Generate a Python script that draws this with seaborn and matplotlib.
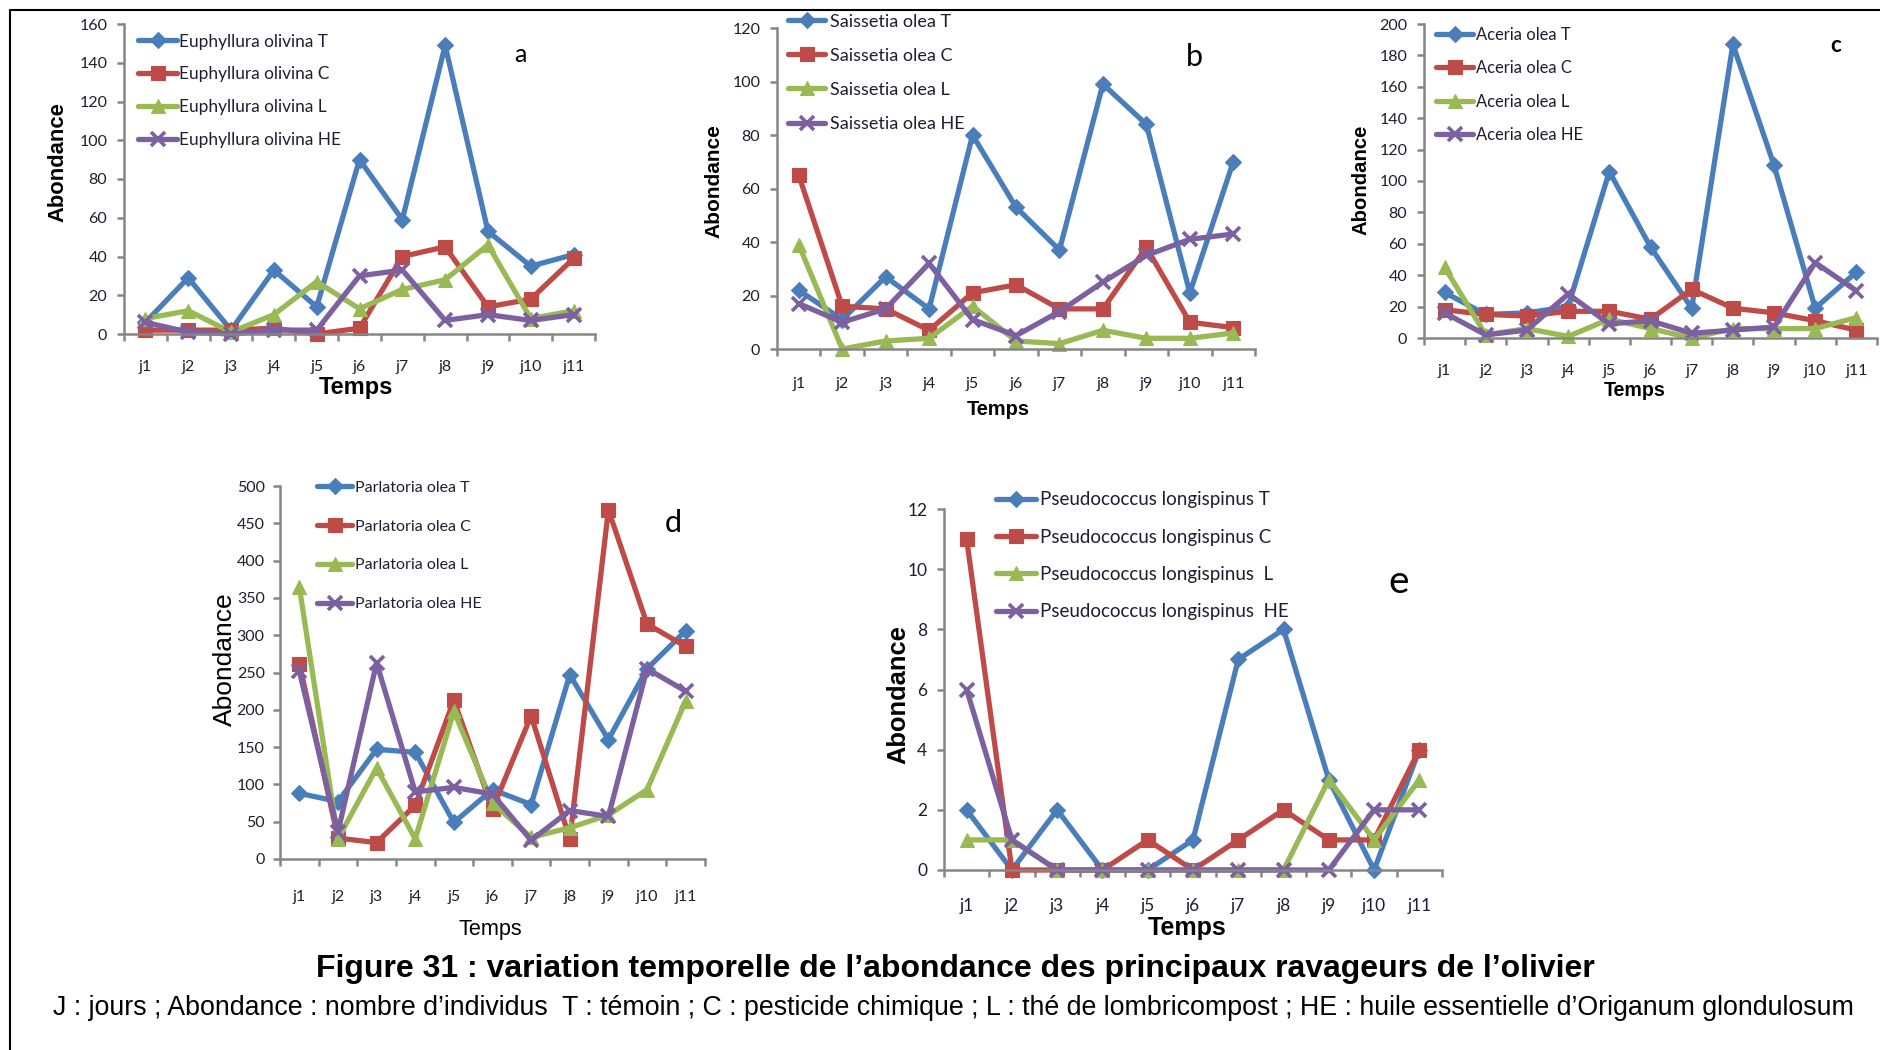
import numpy as np
import pandas as pd
import matplotlib
matplotlib.use("Agg")
import matplotlib.pyplot as plt
from matplotlib.lines import Line2D
import seaborn as sns

# ---- data -------------------------------------------------------------
days = ["j1", "j2", "j3", "j4", "j5", "j6", "j7", "j8", "j9", "j10", "j11"]
treatments = ["T", "C", "L", "HE"]

euph_T = [6, 29, 2, 33, 14, 90, 59, 149, 53, 35, 41]
euph_C = [2, 2, 2, 3, 0, 3, 40, 45, 14, 18, 39]
euph_L = [8, 12, 1, 10, 27, 13, 23, 28, 46, 8, 12]
euph_HE = [6, 1, 0, 2, 2, 30, 33, 7, 10, 7, 10]

sais_T = [22, 11, 27, 15, 80, 53, 37, 99, 84, 21, 70]
sais_C = [65, 16, 15, 7, 21, 24, 15, 15, 38, 10, 8]
sais_L = [39, 0, 3, 4, 16, 3, 2, 7, 4, 4, 6]
sais_HE = [17, 10, 15, 32, 11, 5, 14, 25, 35, 41, 43]

acer_T = [29, 15, 16, 20, 106, 58, 19, 187, 110, 19, 42]
acer_C = [18, 15, 14, 17, 17, 12, 31, 19, 16, 11, 5]
acer_L = [45, 2, 6, 1, 12, 6, 0, 6, 6, 6, 13]
acer_HE = [16, 2, 5, 28, 9, 11, 3, 5, 7, 48, 30]

parl_T = [88, 77, 147, 143, 49, 93, 73, 247, 160, 255, 306]
parl_C = [262, 28, 22, 72, 213, 67, 192, 27, 468, 315, 285]
parl_L = [365, 27, 122, 27, 198, 75, 29, 42, 59, 93, 212]
parl_HE = [252, 36, 263, 90, 96, 87, 25, 65, 57, 255, 225]

pseu_T = [2, 0, 2, 0, 0, 1, 7, 8, 3, 0, 4]
pseu_C = [11, 0, 0, 0, 1, 0, 1, 2, 1, 1, 4]
pseu_L = [1, 1, 0, 0, 0, 0, 0, 0, 3, 1, 3]
pseu_HE = [6, 1, 0, 0, 0, 0, 0, 0, 0, 2, 2]

# ---- styling ----------------------------------------------------------
sns.set_theme(style="white")
plt.rcParams["font.family"] = ["Lato", "DejaVu Sans"]

colors = {"T": "#4A7EBB", "C": "#BE4B48", "L": "#98B954", "HE": "#7D60A0"}
markers = {"T": "D", "C": "s", "L": "^", "HE": "x"}
msizes = {"T": 8, "C": 10, "L": 10, "HE": 10}
AXIS_GREY = "#868686"
TXT = "#1e1e30"

W, H = 1880, 1050
fig = plt.figure(figsize=(W / 100, H / 100), dpi=100)
fig.patch.set_facecolor("white")


def px_rect(left, top, right, bottom):
    return [left / W, 1 - bottom / H, (right - left) / W, (bottom - top) / H]


panels = [
    dict(name="Euphyllura olivina", series=[euph_T, euph_C, euph_L, euph_HE],
         rect=(124, 24, 595, 334), ymax=160, ystep=20, letter="a",
         letter_xy=(520, 55), letter_fs=18, letter_w="normal",
         leg_xy=(138, 33.5), leg_fs=12.4, leg_sp=0.98, leg_hl=2.27, leg_tp=0.12,
         tick_fs=11.5, ypad=7, xpad=19, lab_fs=17, ylab_fs=15.8, lab_w="bold",
         ylab=(-0.14, 0.555), xlab=(0.493, -0.171), xsep=""),
    dict(name="Saissetia olea", series=[sais_T, sais_C, sais_L, sais_HE],
         rect=(777, 28, 1255, 349), ymax=120, ystep=20, letter="b",
         letter_xy=(1194, 57), letter_fs=22, letter_w="normal",
         leg_xy=(788, 13.7), leg_fs=13, leg_sp=1.0, leg_hl=2.05, leg_tp=0.28,
         tick_fs=11.5, ypad=7, xpad=20, lab_fs=14.4, ylab_fs=15, lab_w="bold",
         ylab=(-0.132, 0.523), xlab=(0.462, -0.19), xsep=""),
    dict(name="Aceria olea", series=[acer_T, acer_C, acer_L, acer_HE],
         rect=(1424, 24, 1877, 338), ymax=200, ystep=20, letter="c",
         letter_xy=(1836, 45), letter_fs=16, letter_w="bold",
         leg_xy=(1436, 26.5), leg_fs=11.9, leg_sp=1.06, leg_hl=2.24, leg_tp=0.18,
         tick_fs=11.5, ypad=7, xpad=18.5, lab_fs=14.1, ylab_fs=14.6, lab_w="bold",
         ylab=(-0.139, 0.503), xlab=(0.466, -0.166), xsep=""),
    dict(name="Parlatoria olea", series=[parl_T, parl_C, parl_L, parl_HE],
         rect=(280, 486, 705, 859), ymax=500, ystep=50, letter="d",
         letter_xy=(673, 523), letter_fs=22, letter_w="normal",
         leg_xy=(317, 480.6), leg_fs=11.5, leg_sp=1.54, leg_hl=2.2, leg_tp=0.19,
         tick_fs=11.5, ypad=6, xpad=22, lab_fs=15.6, ylab_fs=19, lab_w="normal",
         ylab=(-0.129, 0.536), xlab=(0.496, -0.19), xsep=""),
    dict(name="Pseudococcus longispinus", series=[pseu_T, pseu_C, pseu_L, pseu_HE],
         rect=(944, 509, 1442, 870), ymax=12, ystep=2, letter="e",
         letter_xy=(1399, 582), letter_fs=28, letter_w="normal",
         leg_xy=(996, 491.4), leg_fs=13.5, leg_sp=1.08, leg_hl=2.13, leg_tp=0.21,
         tick_fs=12.5, ypad=7, xpad=20, lab_fs=18, ylab_fs=18.4, lab_w="bold",
         ylab=(-0.092, 0.485), xlab=(0.488, -0.161), xsep=" "),
]

xpos = np.arange(len(days))

for p in panels:
    ax = fig.add_axes(px_rect(*p["rect"]))
    ax.set_facecolor("white")
    for tr, vals in zip(treatments, p["series"]):
        sep = p["xsep"] if tr in ("L", "HE") else ""
        df = pd.DataFrame({"jour": xpos, "abondance": vals})
        sns.lineplot(data=df, x="jour", y="abondance", ax=ax, sort=False,
                     errorbar=None, color=colors[tr], linewidth=3.8,
                     marker=markers[tr], markersize=msizes[tr],
                     markerfacecolor=colors[tr], markeredgecolor=colors[tr],
                     markeredgewidth=2.6 if tr == "HE" else 0.8,
                     clip_on=False, label=f"{p['name']} {sep}{tr}")

    ax.set_xlim(-0.5, len(days) - 0.5)
    ax.set_ylim(0, p["ymax"])
    ax.set_yticks(np.arange(0, p["ymax"] + 0.001, p["ystep"]))
    ax.set_xticks(xpos)
    ax.set_xticklabels(days)
    ax.set_xticks(np.arange(-0.5, len(days)), minor=True)

    for s in ("top", "right"):
        ax.spines[s].set_visible(False)
    for s in ("left", "bottom"):
        ax.spines[s].set_color(AXIS_GREY)
        ax.spines[s].set_linewidth(1.8)

    ax.tick_params(axis="x", which="major", length=0, pad=p["xpad"],
                   labelsize=p["tick_fs"], labelcolor=TXT)
    ax.tick_params(axis="x", which="minor", length=5, width=1.8,
                   color=AXIS_GREY, direction="out", bottom=True)
    ax.tick_params(axis="y", which="major", length=5, width=1.8,
                   color=AXIS_GREY, direction="out", left=True, pad=p["ypad"],
                   labelsize=p["tick_fs"], labelcolor=TXT)
    ax.grid(False)

    ax.set_xlabel("Temps", fontsize=p["lab_fs"], fontweight=p["lab_w"],
                  family=["Liberation Sans"], color="black")
    ax.set_ylabel("Abondance", fontsize=p["ylab_fs"], fontweight=p["lab_w"],
                  family=["Liberation Sans"], color="black")
    ax.xaxis.set_label_coords(*p["xlab"])
    ax.xaxis.label.set_va("center")
    ax.yaxis.set_label_coords(*p["ylab"])
    ax.yaxis.label.set_va("center")

    lx, ly = p["leg_xy"]
    ax.legend(loc="upper left", bbox_to_anchor=(lx / W, 1 - ly / H),
              bbox_transform=fig.transFigure, frameon=False,
              fontsize=p["leg_fs"], handlelength=p["leg_hl"],
              handletextpad=p["leg_tp"], labelspacing=p["leg_sp"], borderpad=0,
              borderaxespad=0, numpoints=1, labelcolor=TXT)

    tx, ty = p["letter_xy"]
    fig.text(tx / W, 1 - ty / H, p["letter"], fontsize=p["letter_fs"],
             fontweight=p["letter_w"], ha="center", va="center", color="black")

# page frame lines (top and left)
fig.add_artist(Line2D([10 / W, 1.0], [1 - 10 / H, 1 - 10 / H],
                      transform=fig.transFigure, color="black", linewidth=1.5))
fig.add_artist(Line2D([10 / W, 10 / W], [0.0, 1 - 10 / H],
                      transform=fig.transFigure, color="black", linewidth=1.5))

fig.text(955 / W, 1 - 969 / H,
         "Figure 31 : variation temporelle de l\u2019abondance des principaux ravageurs de l\u2019olivier",
         fontsize=23, fontweight="bold", family=["Liberation Sans"],
         ha="center", va="center", color="black")
fig.text(953 / W, 1 - 1008 / H,
         "J : jours ; Abondance : nombre d\u2019individus  T : t\u00e9moin ; C : pesticide chimique ; "
         "L : th\u00e9 de lombricompost ; HE : huile essentielle d\u2019Origanum glondulosum",
         fontsize=19.3, family=["Liberation Sans"], ha="center", va="center",
         color="black")

fig.savefig("out.png", dpi=100, facecolor="white")
